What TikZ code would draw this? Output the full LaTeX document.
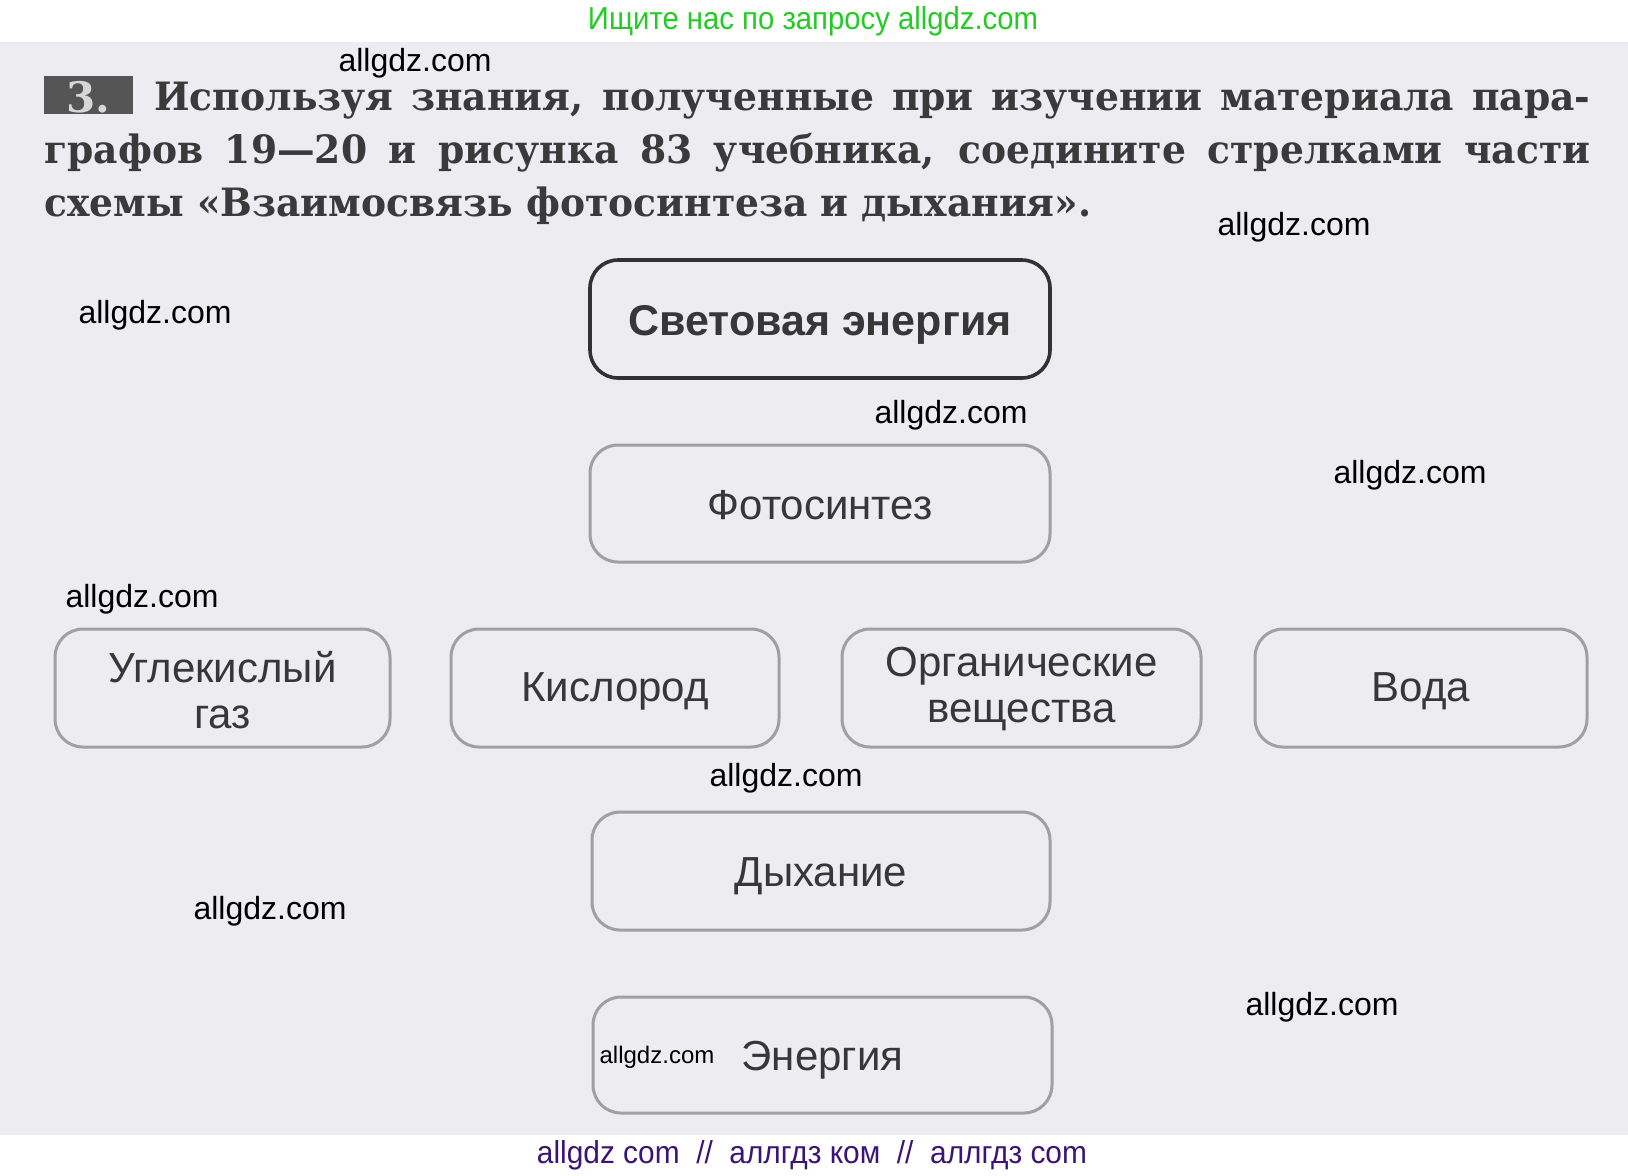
\documentclass[tikz,border=0pt]{standalone}
\usepackage{fontspec}
\usepackage{graphicx}
\setmainfont{DejaVu Serif}
\newfontfamily\titlefont[FakeStretch=0.965]{DejaVu Serif}
\newfontfamily\boxfont{Liberation Sans}
\newfontfamily\wmfont{Liberation Sans}
\newcommand{\lowr}[2]{\raisebox{-#1}[\height][\depth]{#2}}
\definecolor{scanbg}{RGB}{236,236,241}
\definecolor{ink}{RGB}{55,55,55}
\definecolor{titleink}{RGB}{58,58,58}
\definecolor{darkline}{RGB}{50,50,50}
\definecolor{grayline}{RGB}{160,160,160}
\definecolor{badgefill}{RGB}{85,85,85}
\definecolor{badgetext}{RGB}{215,215,215}
\definecolor{topgreen}{RGB}{34,204,34}
\definecolor{botpurple}{RGB}{60,20,120}
\tikzset{
  boxbase/.style={rounded corners=14pt, inner sep=0pt, align=center, text=ink,
    font=\boxfont\fontsize{21pt}{23pt}\selectfont},
  mainbox/.style={boxbase, draw=darkline, line width=1.8pt,
    font=\boxfont\bfseries\fontsize{21.5pt}{24pt}\selectfont},
  graybox/.style={boxbase, draw=grayline, line width=1.5pt},
  wm/.style={inner sep=0pt, text=black, font=\wmfont\fontsize{16pt}{18pt}\selectfont},
  wmsmall/.style={inner sep=0pt, text=black, font=\wmfont\fontsize{12pt}{14pt}\selectfont},
  titleline/.style={anchor=base west, inner sep=0pt, text=titleink, font=\titlefont\bfseries\fontsize{19.5pt}{26pt}\selectfont}
}
\begin{document}
\begin{tikzpicture}[x=0.5pt,y=-0.5pt]
\useasboundingbox (0,0) rectangle (1628,1175);
\fill[white] (0,0) rectangle (1628,1175);
\fill[scanbg] (0,42) rectangle (1628,1135);

% top and bottom banners
\node[anchor=base, inner sep=0pt, text=topgreen] (topbanner) at (813,29)
  {\resizebox{225pt}{11.5pt}{\wmfont Ищите нас по запросу allgdz.com}};
\node[anchor=base, inner sep=0pt, text=botpurple] (botbanner) at (812,1163)
  {\resizebox{275pt}{11.5pt}{\wmfont allgdz com\ \ //\ \ аллгдз ком\ \ //\ \ аллгдз com}};

% task header
\node[fill=badgefill, minimum width=44.5pt, minimum height=19pt, inner sep=0pt,
  text=badgetext, font=\bfseries\fontsize{21pt}{22pt}\selectfont] (badge) at (88.5,95) {\lowr{1pt}{3.}};
\node[titleline] (line1) at (154,110)
  {\makebox[718pt][s]{Используя знания, полученные при изучении материала пара-}};
\node[titleline] (line2) at (44,163)
  {\makebox[773pt][s]{графов 19—20 и рисунка 83 учебника, соедините стрелками части}};
\node[titleline] (line3) at (44,216)
  {схемы «Взаимосвязь фотосинтеза и дыхания».};

% boxes
\node[mainbox, minimum width=230pt, minimum height=59pt] (sv) at (820,319) {\lowr{3pt}{Световая энергия}};
\node[graybox, minimum width=230pt, minimum height=58.5pt] (fs) at (820,503.5) {\lowr{1pt}{Фотосинтез}};
\node[graybox, minimum width=167.5pt, minimum height=59pt] (ug) at (222.5,688) {\lowr{1pt}{Углекислый}\\\lowr{1pt}{газ}};
\node[graybox, minimum width=164pt, minimum height=59pt] (ki) at (615,688) {\lowr{1.5pt}{Кислород}};
\node[graybox, minimum width=179.5pt, minimum height=59pt] (ov) at (1021.5,688) {\lowr{0.5pt}{Органические}\\\lowr{0.5pt}{вещества}};
\node[graybox, minimum width=166pt, minimum height=59pt] (vo) at (1421,688) {\lowr{1.5pt}{Вода}};
\node[graybox, minimum width=229pt, minimum height=59pt] (dy) at (821,871) {\lowr{2.5pt}{Дыхание}};
\node[graybox, minimum width=229.5pt, minimum height=58pt] (en) at (822.5,1055) {\lowr{2.5pt}{Энергия}};

% watermarks
\node[wm] (w1) at (415,63) {allgdz.com};
\node[wm] (w2) at (1294,227) {allgdz.com};
\node[wm] (w3) at (155,315) {allgdz.com};
\node[wm] (w4) at (951,415) {allgdz.com};
\node[wm] (w5) at (1410,475) {allgdz.com};
\node[wm] (w6) at (142,599) {allgdz.com};
\node[wm] (w7) at (786,778) {allgdz.com};
\node[wm] (w8) at (270,911) {allgdz.com};
\node[wm] (w9) at (1322,1007) {allgdz.com};
\node[wmsmall] (w10) at (657,1057) {allgdz.com};
\end{tikzpicture}
\end{document}
